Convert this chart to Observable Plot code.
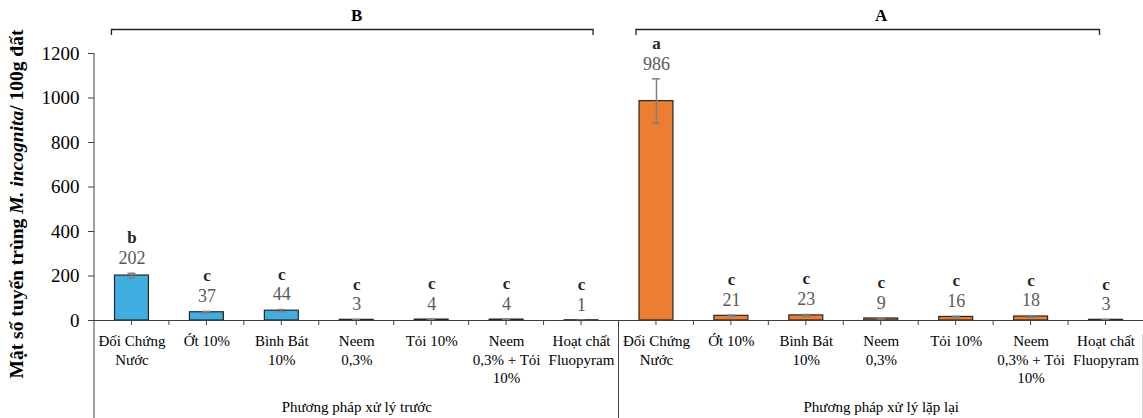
<!DOCTYPE html>
<html>
<head>
<meta charset="utf-8">
<script src="https://cdn.jsdelivr.net/npm/d3@7"></script>
<script src="https://cdn.jsdelivr.net/npm/@observablehq/plot@0.6"></script>
<style>
  html, body { margin: 0; padding: 0; background: #fff; }
  svg text, svg tspan { font-family: "Liberation Serif", "Times New Roman", serif; }
</style>
</head>
<body>
<div id="chart"></div>
<script>
// ---- data ----
const groups = ["Phương pháp xử lý trước", "Phương pháp xử lý lặp lại"];
const groupTags = ["B", "A"];
const treatments = ["Đối Chứng\nNước", "Ớt 10%", "Bình Bát\n10%", "Neem\n0,3%", "Tỏi 10%", "Neem\n0,3% + Tỏi\n10%", "Hoạt chất\nFluopyram"];
const valuesTruoc = [202, 37, 44, 3, 4, 4, 1];
const errTruoc = [10, 4, 5, 1, 1, 1, 0.5];
const lettersTruoc = ["b", "c", "c", "c", "c", "c", "c"];
const valuesLapLai = [986, 21, 23, 9, 16, 18, 3];
const errLapLai = [100, 3, 4, 2, 3, 4, 1];
const lettersLapLai = ["a", "c", "c", "c", "c", "c", "c"];
const groupColors = ["#41AEE1", "#ED7D31"];
const yTicks = [0, 200, 400, 600, 800, 1000, 1200];
const yTitle = ["Mật số tuyến trùng ", "M. incognita", "/ 100g đất"];

// ---- table ----
const seriesValues = [valuesTruoc, valuesLapLai];
const seriesErr = [errTruoc, errLapLai];
const seriesLetters = [lettersTruoc, lettersLapLai];
const rows = [];
groups.forEach((g, gi) => treatments.forEach((t, ti) => rows.push({
  key: String(gi * treatments.length + ti),
  group: g, gi, ti, label: t,
  value: seriesValues[gi][ti],
  err: seriesErr[gi][ti],
  letter: seriesLetters[gi][ti],
  color: groupColors[gi]
})));
const keys = rows.map(d => d.key);
const groupRows = groups.map((g, gi) => ({
  group: g, tag: groupTags[gi],
  mid: String(gi * treatments.length + Math.floor(treatments.length / 2))
}));

const serif = "Liberation Serif";
const W = 1143, H = 418;
const bracketOffsets = [[-20, 12], [-20, -6]];

function decorations(index, scales, values, dims) {
  const {x, y} = scales;
  const step = x.step();
  const g = d3.create("svg:g").attr("fill", "none");
  const y0 = y(0);
  const bottom = dims.height;
  const n = treatments.length;
  const line = (x1, y1, x2, y2, stroke = "#404040", sw = 1) =>
    g.append("line").attr("x1", x1).attr("y1", y1).attr("x2", x2).attr("y2", y2)
      .attr("stroke", stroke).attr("stroke-width", sw);
  const left = x(keys[0]);
  line(left, y(yTicks[yTicks.length - 1]), left, bottom);
  keys.forEach((k, i) => {
    const x0 = x(k);
    line(x0 + step / 2, y0, x0 + step / 2, y0 + 5);
    if (i % n !== 0) line(x0, y0, x0, y0 + 5);
  });
  for (let gi = 1; gi < groups.length; gi++) {
    const sx = x(keys[gi * n]);
    line(sx, y0, sx, bottom);
  }
  const rx = x(keys[keys.length - 1]) + step - 0.5;
  line(rx, y0 + 14, rx, bottom, "#d9d9d9", 1);
  const by = y(yTicks[yTicks.length - 1]) - 23.5;
  groups.forEach((gname, gi) => {
    const xa = x(keys[gi * n]) + step / 2 + bracketOffsets[gi][0];
    const xb = x(keys[gi * n + n - 1]) + step / 2 + bracketOffsets[gi][1];
    g.append("path")
      .attr("d", `M${xa},${by + 5.5}V${by}H${xb}V${by + 5.5}`)
      .attr("stroke", "#222").attr("stroke-width", 1.3);
  });
  return g.node();
}

const chart = Plot.plot({
  width: W, height: H,
  marginLeft: 94, marginRight: 0, marginTop: 53, marginBottom: 98,
  style: {fontFamily: serif, fontSize: "16px", background: "#fff", color: "#000"},
  x: {type: "band", domain: keys, padding: 0, round: false, axis: null},
  y: {domain: [0, 1200], axis: null},
  marks: [
    Plot.barY(rows, {x: "key", y: "value", fill: "color", stroke: "#262626", strokeWidth: 1.2, insetLeft: 20.5, insetRight: 20.5}),
    Plot.ruleX(rows, {x: "key", y1: d => d.value - d.err, y2: d => d.value + d.err, stroke: "#7f7f7f", strokeWidth: 1.5}),
    Plot.tickY(rows, {x: "key", y: d => d.value - d.err, stroke: "#7f7f7f", strokeWidth: 1.5, insetLeft: 33.5, insetRight: 33.5}),
    Plot.tickY(rows, {x: "key", y: d => d.value + d.err, stroke: "#7f7f7f", strokeWidth: 1.5, insetLeft: 33.5, insetRight: 33.5}),
    Plot.ruleY([0], {stroke: "#404040", strokeWidth: 1}),
    Plot.axisY({ticks: yTicks, label: null, tickSize: 6, tickPadding: 9, fontSize: 19, fontFamily: serif, stroke: "#404040", fill: "#000", tickFormat: d => String(d)}),
    decorations,
    Plot.text(rows, {x: "key", y: d => d.value + d.err, text: d => String(d.value), dy: -15, fontSize: 18, fontFamily: serif, fill: "#595959", lineAnchor: "middle"}),
    Plot.text(rows, {x: "key", y: d => d.value + d.err, text: "letter", dy: -35.5, fontSize: 17, fontFamily: serif, fontWeight: "bold", fill: "#262626", lineAnchor: "middle"}),
    Plot.text(rows, {x: "key", y: 0, text: "label", dy: 12.5, lineAnchor: "top", fontSize: 15, fontFamily: serif, lineHeight: 1.23, fill: "#000"}),
    Plot.text(groupRows, {x: "mid", y: 0, text: "group", dy: 87, lineAnchor: "middle", fontSize: 15, fontFamily: serif, fill: "#000"}),
    Plot.text(groupRows, {x: "mid", y: yTicks[yTicks.length - 1], text: "tag", dy: -38, lineAnchor: "middle", fontSize: 17, fontFamily: serif, fontWeight: "bold", fill: "#000"}),
    Plot.text([yTitle.join("")], {frameAnchor: "left", text: d => d, rotate: -90, dx: -78, dy: 17, textAnchor: "middle", lineAnchor: "middle", fontSize: 19.5, fontFamily: serif, fontWeight: "bold", fill: "#000"})
  ]
});

document.getElementById("chart").appendChild(chart);

// mixed italic in the y title
const full = yTitle.join("");
d3.select(chart).selectAll("text").each(function() {
  if (this.textContent === full) {
    const t = d3.select(this);
    t.text(null);
    yTitle.forEach((s, i) => {
      const sp = t.append("tspan").text(s);
      if (i === 1) sp.attr("font-style", "italic");
    });
  }
});
</script>
</body>
</html>
